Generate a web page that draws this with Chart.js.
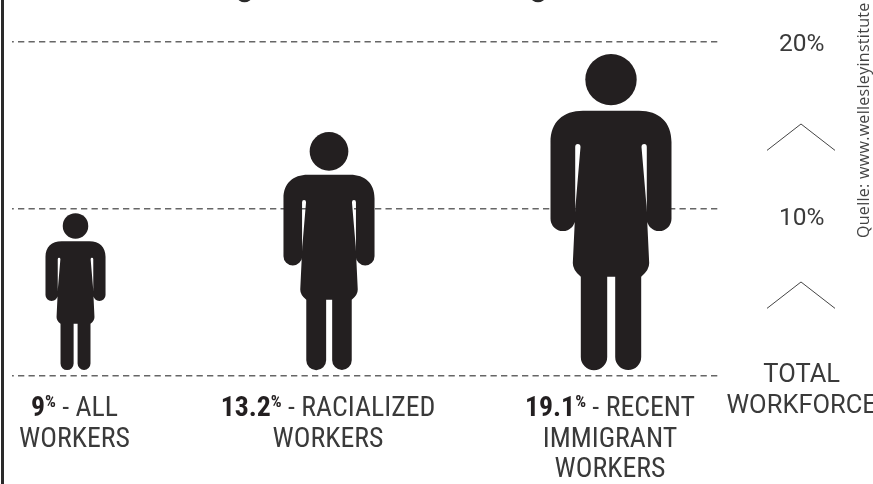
<!DOCTYPE html>
<html>
<head>
<meta charset="utf-8">
<style>html,body{margin:0;padding:0;background:#fff;overflow:hidden}#wrap{width:873px;height:484px}</style>
<script src="https://cdn.jsdelivr.net/npm/chart.js@4/dist/chart.umd.min.js"></script>
</head>
<body>
<div id="wrap"><canvas id="c" width="873" height="484"></canvas></div>
<script>
// Published shares (%), as printed under each figure
const shares = [9, 13.2, 19.1];
const shareText = ['9', '13.2', '19.1'];
// Where each figure's head top reads against the % axis; feet read the same for all
const figureTops = [9.75, 14.6, 19.28];
const figureFoot = 0.36;
const categories = [
  ['ALL', 'WORKERS'],
  ['RACIALIZED', 'WORKERS'],
  ['RECENT', 'IMMIGRANT', 'WORKERS']
];
const axisTicks = [0, 10, 20];
const axisLabels = {20: ['', '20%'], 10: ['', '10%'], 0: ['', '', 'TOTAL', '', 'WORKFORCE']};
const chevronTips = [15.09, 5.63];
const sourceText = 'Quelle: www.wellesleyinstitute';

const INK = '#231f20', TEXT = '#3a3a3a', FAM = 'Roboto', SIZE = 27.8;
const BODY = new Path2D('M-28 56.7H28C48 56.7 60.5 68 60.5 88V164.7A12.35 12.35 0 0 1 35.8 164.7V93Q35.8 90 33.2 90Q30.5 90 30.5 93L35.5 152L38.2 209Q38.4 216 30.2 222.7V303A13 13 0 0 1 4.2 303V222.7H-3.8V303A13 13 0 0 1 -30.2 303V222.7Q-38.4 216 -38.2 209L-35.5 152L-30.5 93Q-30.5 90 -33.2 90Q-35.8 90 -35.8 93V164.7A12.35 12.35 0 0 1 -60.5 164.7V88C-60.5 68 -48 56.7 -28 56.7Z');
const FIG_H = 316, FIG_SHIFT = [0, -14.25, 0];

const pictogram = {
  id: 'pictogram',
  afterDatasetsDraw(chart) {
    const {ctx, scales: {y}} = chart;
    const pts = chart.getDatasetMeta(0).data;
    const foot = y.getPixelForValue(figureFoot);
    ctx.save();
    ctx.fillStyle = '#2a2a2a';
    ctx.fillRect(1, 0, 3, chart.height);
    ctx.beginPath(); ctx.ellipse(244.5, -3, 7, 5.3, 0, 0, Math.PI * 2); ctx.fill();
    ctx.beginPath(); ctx.ellipse(538, -3, 7, 5.3, 0, 0, Math.PI * 2); ctx.fill();

    pts.forEach((pt, i) => {
      const cx = pt.x + FIG_SHIFT[i], top = pt.y, k = (foot - top) / FIG_H;
      ctx.save();
      ctx.translate(cx, top); ctx.scale(k, k);
      ctx.fillStyle = INK;
      ctx.fill(BODY);
      ctx.beginPath(); ctx.arc(0, 25.6, 25.7, 0, Math.PI * 2); ctx.fill();
      ctx.restore();
      const lines = categories[i];
      const x0 = cx - 1;
      ctx.textBaseline = 'alphabetic';
      lines.forEach((line, j) => {
        const base = y.bottom + 40 + j * 30.6;
        ctx.textAlign = 'left';
        if (j === 0) {
          ctx.font = `condensed bold ${SIZE}px ${FAM}`; const a = ctx.measureText(shareText[i]).width;
          ctx.font = `condensed bold 17px ${FAM}`; const b = ctx.measureText('%').width;
          const rest = ' - ' + line;
          ctx.font = `condensed ${SIZE}px ${FAM}`; const c = ctx.measureText(rest).width;
          let x = x0 - (a + b + c) / 2;
          ctx.fillStyle = INK; ctx.font = `condensed bold ${SIZE}px ${FAM}`; ctx.fillText(shareText[i], x, base); x += a;
          ctx.font = `condensed bold 17px ${FAM}`; ctx.fillText('%', x, base - 9); x += b;
          ctx.fillStyle = TEXT; ctx.font = `condensed ${SIZE}px ${FAM}`; ctx.fillText(rest, x, base);
        } else {
          ctx.fillStyle = TEXT; ctx.font = `condensed ${SIZE}px ${FAM}`; ctx.textAlign = 'center';
          ctx.fillText(line, x0, base);
        }
      });
    });
    ctx.strokeStyle = '#444'; ctx.lineWidth = 1;
    chevronTips.forEach(v => {
      const tip = y.getPixelForValue(v), low = y.getPixelForValue(v - 1.58);
      ctx.beginPath(); ctx.moveTo(767, low); ctx.lineTo(801, tip); ctx.lineTo(835, low); ctx.stroke();
    });
    ctx.translate(869, 238); ctx.rotate(-Math.PI / 2);
    ctx.font = '16px "Open Sans"'; ctx.fillStyle = '#444'; ctx.textAlign = 'left';
    ctx.letterSpacing = '0.3px';
    ctx.fillText(sourceText, 0, 0);
    ctx.restore();
  }
};

new Chart(document.getElementById('c'), {
  type: 'line',
  data: {
    datasets: [{
      data: figureTops.map((v, i) => ({x: i, y: v})),
      showLine: false, pointRadius: 0, pointHoverRadius: 0
    }]
  },
  options: {
    responsive: false, animation: false,
    layout: {padding: {left: 12, top: 42, bottom: 108, right: 0}},
    plugins: {legend: {display: false}, tooltip: {enabled: false}, title: {display: false}},
    scales: {
      x: {type: 'linear', display: false, min: -0.2372, max: 2.4071},
      y: {
        position: 'right', min: 0, max: 20,
        afterFit(s) { s.width = 153; },
        afterBuildTicks(s) { s.ticks = axisTicks.map(v => ({value: v})); },
        border: {display: false, dash: [6.3, 4.2], dashOffset: 4.5},
        grid: {color: '#666', lineWidth: 1.5, drawTicks: false},
        ticks: {
          autoSkip: false, padding: 6.5, crossAlign: 'center', color: TEXT,
          callback: v => axisLabels[v],
          font: c => ({family: FAM, style: 'condensed', size: c.tick && c.tick.value === 0 ? 25.5 : 24.5,
                       lineHeight: !c.tick ? 1.2 : c.tick.value === 0 ? '15.2px' : c.tick.value === 10 ? '20px' : '6px'})
        }
      }
    }
  },
  plugins: [pictogram]
});
</script>
</body>
</html>
